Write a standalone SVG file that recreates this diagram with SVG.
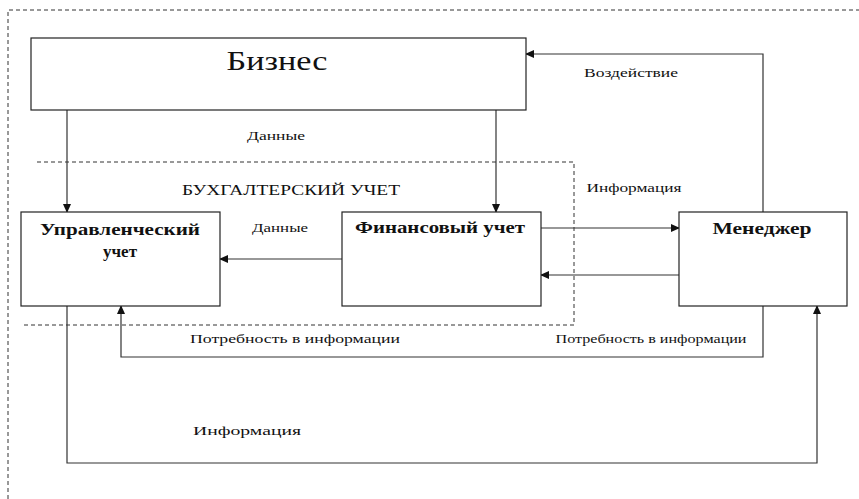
<svg xmlns="http://www.w3.org/2000/svg" width="859" height="499" viewBox="0 0 859 499">
<style>
.box{fill:#fff;stroke:#222;stroke-width:1.2}
.ln{fill:none;stroke:#333;stroke-width:1.2}
.dash{fill:none;stroke:#333;stroke-width:1;stroke-dasharray:4,3}
text{font-family:"Liberation Serif","DejaVu Serif","Times New Roman",serif;fill:#111}
.lbl{font-size:13px}
.bold{font-size:17px;font-weight:bold}
</style>
<defs>
<marker id="ah" markerWidth="9" markerHeight="8" refX="8" refY="4" orient="auto" markerUnits="userSpaceOnUse">
<path d="M0,0 L9,4 L0,8 Z" fill="#111"/>
</marker>
</defs>
<rect width="859" height="499" fill="#fff"/>
<g id="frames">
<path class="dash" d="M8,499 L8,10 L859,10"/>
<path class="dash" d="M37,162 L574,162 L574,325 L22,325"/>
<text x="291" y="195" text-anchor="middle" style="font-size:15px" textLength="218" lengthAdjust="spacingAndGlyphs">БУХГАЛТЕРСКИЙ УЧЕТ</text>
</g>
<g id="connectors">
<path class="ln" d="M67,110 L67,212" marker-end="url(#ah)"/>
<path class="ln" d="M496,110 L496,212" marker-end="url(#ah)"/>
<path class="ln" d="M541,228 L679,228" marker-end="url(#ah)"/>
<path class="ln" d="M679,275 L541,275" marker-end="url(#ah)"/>
<path class="ln" d="M342,259 L220,259" marker-end="url(#ah)"/>
<path class="ln" d="M763,212 L763,54 L526,54" marker-end="url(#ah)"/>
<path class="ln" d="M763,306 L763,357 L121,357 L121,306" marker-end="url(#ah)"/>
<path class="ln" d="M67,306 L67,463 L817,463 L817,306" marker-end="url(#ah)"/>
<text class="lbl" x="276" y="140" text-anchor="middle" textLength="58" lengthAdjust="spacingAndGlyphs">Данные</text>
<text class="lbl" x="280" y="232" text-anchor="middle" textLength="56" lengthAdjust="spacingAndGlyphs">Данные</text>
<text class="lbl" x="631" y="77" text-anchor="middle" textLength="94" lengthAdjust="spacingAndGlyphs">Воздействие</text>
<text class="lbl" x="634" y="192" text-anchor="middle" textLength="95" lengthAdjust="spacingAndGlyphs">Информация</text>
<text class="lbl" x="295" y="343" text-anchor="middle" textLength="210" lengthAdjust="spacingAndGlyphs">Потребность в информации</text>
<text class="lbl" x="651" y="343" text-anchor="middle" textLength="191" lengthAdjust="spacingAndGlyphs">Потребность в информации</text>
<text class="lbl" x="247" y="435" text-anchor="middle" textLength="108" lengthAdjust="spacingAndGlyphs">Информация</text>
</g>
<g id="biznes">
<rect class="box" x="31" y="38" width="495" height="72"/>
<text x="277" y="70" text-anchor="middle" style="font-size:27px" textLength="101" lengthAdjust="spacingAndGlyphs">Бизнес</text>
</g>
<g id="upravl">
<rect class="box" x="21" y="212" width="199" height="94"/>
<text class="bold" x="120" y="235" text-anchor="middle" textLength="160" lengthAdjust="spacingAndGlyphs">Управленческий</text>
<text class="bold" x="120" y="257" text-anchor="middle">учет</text>
</g>
<g id="finans">
<rect class="box" x="342" y="212" width="199" height="94"/>
<text class="bold" x="440" y="233" text-anchor="middle" textLength="170" lengthAdjust="spacingAndGlyphs">Финансовый учет</text>
</g>
<g id="menedzher">
<rect class="box" x="679" y="212" width="168" height="94"/>
<text class="bold" x="762" y="234" text-anchor="middle" textLength="99" lengthAdjust="spacingAndGlyphs">Менеджер</text>
</g>
</svg>
